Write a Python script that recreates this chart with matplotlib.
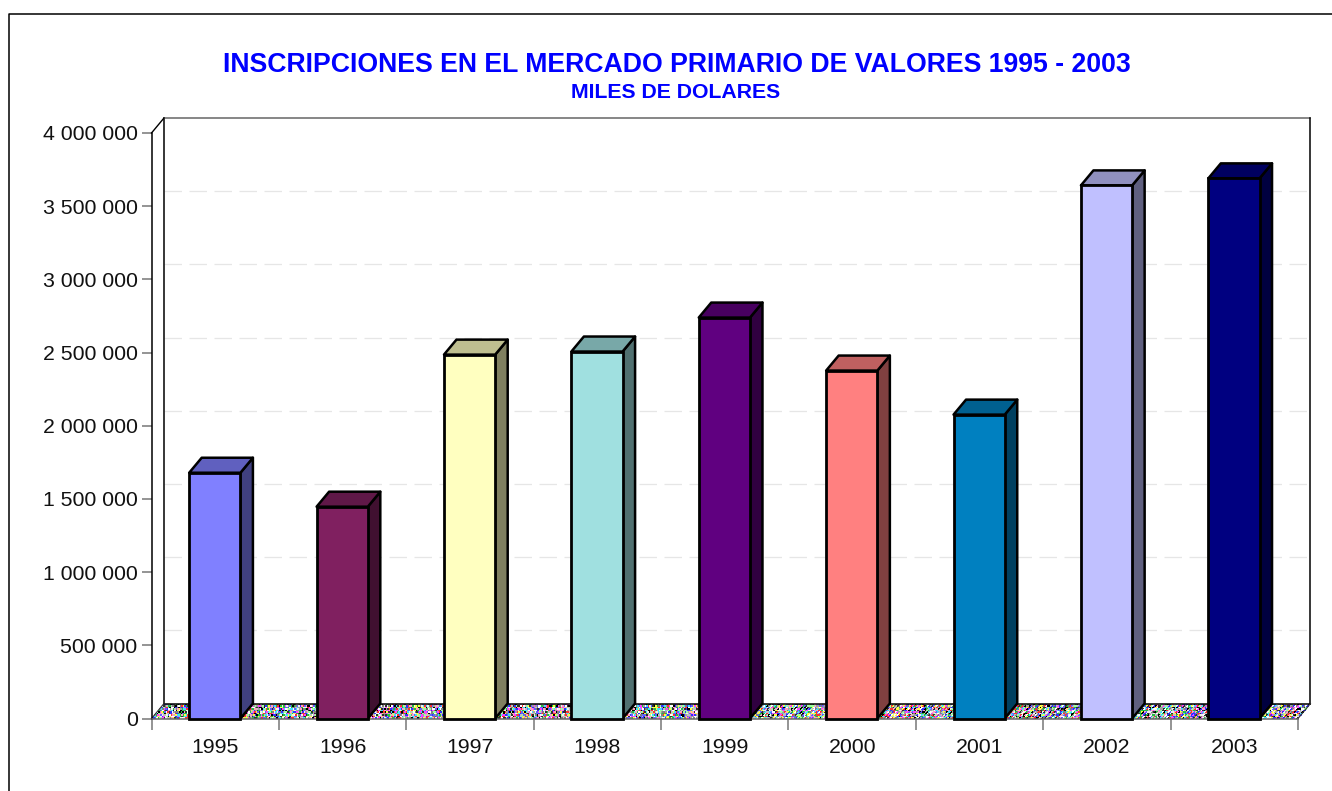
#!/usr/bin/env python3
import numpy as np
import matplotlib
matplotlib.use("Agg")
import matplotlib.pyplot as plt
from matplotlib.colors import ListedColormap
from matplotlib.patches import Polygon
from matplotlib.ticker import FuncFormatter

plt.rcParams["font.family"] = ["Liberation Sans", "DejaVu Sans"]

years = ["1995", "1996", "1997", "1998", "1999", "2000", "2001", "2002", "2003"]
values = [1679000, 1447000, 2486000, 2507000, 2739000, 2377000, 2076000, 3642000, 3690000]
front_colors = ["#8080FF", "#802060", "#FFFFC0", "#A0E0E0", "#600080",
                "#FF8080", "#0080C0", "#C0C0FF", "#000080"]
y_ticks = [0, 500000, 1000000, 1500000, 2000000, 2500000, 3000000, 3500000, 4000000]

W, H = 1332, 791
fig = plt.figure(figsize=(W / 100, H / 100), dpi=100)

# axes box is the front plane of the fake 3D chart
left, right, top, bottom = 151.5, 1298.0, 133.0, 718.5
ax = fig.add_axes([left / W, 1 - bottom / H, (right - left) / W, (bottom - top) / H])
ax.set_xlim(0, len(years))
ax.set_ylim(0, 4000000)
ax.patch.set_visible(False)

# depth offset of the 3D look, px converted to data units
dx = 12.5 * len(years) / (right - left)
dy = 15.0 * 4000000 / (bottom - top)


def shade(color, f):
    rgb = np.array(matplotlib.colors.to_rgb(color))
    return tuple(rgb * f)


n_years = len(years)

# back wall
ax.add_patch(Polygon([(dx, dy), (dx, 4000000 + dy), (n_years + dx, 4000000 + dy), (n_years + dx, dy)],
                     closed=True, fc="white", ec="none", clip_on=False, zorder=1))
for v in y_ticks[1:-1]:
    ax.plot([dx, n_years + dx], [v + dy, v + dy], color="#E6E6E6", lw=0.9,
            dashes=(14, 6), clip_on=False, zorder=1.5)
ax.plot([dx, dx], [dy, 4000000 + dy], color="black", lw=1.1, clip_on=False, zorder=2)
ax.plot([dx, n_years + dx], [4000000 + dy] * 2, color="#666666", lw=1.1, clip_on=False, zorder=2)
ax.plot([n_years + dx] * 2, [dy, 4000000 + dy], color="black", lw=1.1, clip_on=False, zorder=2)
ax.plot([0, dx], [4000000, 4000000 + dy], color="black", lw=1.0, clip_on=False, zorder=2)

# noisy floor texture, built from fixed integer patterns
palette = ListedColormap(["#FFFFFF", "#000000", "#FF40FF", "#40E0FF", "#FFFF40", "#3030FF",
                          "#FF3030", "#20C040", "#C0C0C0", "#F0F0F0", "#808080", "#6060FF",
                          "#A0A0A0", "#303030", "#FFA0C0", "#A0FFA0"])
nx, ny = 764, 10
ix, iy = np.meshgrid(np.arange(nx), np.arange(ny))
tex = (ix * 5 + iy * iy * 11 + (ix * ix) // 7 + ix * iy * 3 + (ix * ix * ix) // 41) % 16
u = np.linspace(0, n_years, nx + 1)
w = np.linspace(0, 1, ny + 1)
U, V = np.meshgrid(u, w)
ax.pcolormesh(U + V * dx, V * dy, tex, cmap=palette, shading="flat", clip_on=False, zorder=2.2,
              rasterized=True)
ax.plot([dx, n_years + dx], [dy, dy], color="black", lw=1.1, clip_on=False, zorder=2.4)
ax.plot([0, dx], [0, dy], color="#333333", lw=0.8, clip_on=False, zorder=2.4)
ax.plot([n_years, n_years + dx], [0, dy], color="#333333", lw=0.8, clip_on=False, zorder=2.4)

# bars
bar_w = 0.402
for i, (v, c) in enumerate(zip(values, front_colors)):
    x0 = i + 0.5 - 0.408 / 2
    x1 = x0 + bar_w
    z = 3 + i * 0.1
    ax.bar(x0, v, width=bar_w, align="edge", color=c, edgecolor="black", linewidth=2.0,
           clip_on=False, zorder=z + 0.02)
    ax.add_patch(Polygon([(x1, 0), (x1 + dx, dy), (x1 + dx, v + dy), (x1, v)], closed=True,
                         fc=shade(c, 0.5), ec="black", lw=1.8, joinstyle="round",
                         clip_on=False, zorder=z))
    ax.add_patch(Polygon([(x0, v), (x0 + dx, v + dy), (x1 + dx, v + dy), (x1, v)], closed=True,
                         fc=shade(c, 0.75), ec="black", lw=1.8, joinstyle="round",
                         clip_on=False, zorder=z))

# axes
for s in ["top", "right"]:
    ax.spines[s].set_visible(False)
ax.spines["left"].set_color("black")
ax.spines["left"].set_linewidth(1.1)
ax.spines["bottom"].set_color("#666666")
ax.spines["bottom"].set_linewidth(1.1)
ax.spines["bottom"].set_zorder(2.5)
ax.set_yticks(y_ticks)
ax.yaxis.set_major_formatter(FuncFormatter(lambda v, p: f"{int(v):,}".replace(",", " ")))
ax.set_xticks(range(n_years + 1))
ax.set_xticklabels([])
ax.set_xticks(np.arange(n_years) + 0.5, minor=True)
ax.set_xticklabels(years, minor=True)
ax.tick_params(axis="x", which="major", length=8, width=1.1, color="#777777")
ax.tick_params(axis="x", which="minor", length=0, pad=14, labelsize=15.3, labelcolor="#111111")
ax.tick_params(axis="y", length=7, width=1.1, color="#777777", pad=3, labelsize=15.3, labelcolor="#111111")

# titles
fig.text(676.5 / W, 1 - 64.5 / H, "INSCRIPCIONES EN EL MERCADO PRIMARIO DE VALORES 1995 - 2003",
         color="#0000FF", fontsize=19.2, fontweight="bold", ha="center", va="center")
fig.text(675.5 / W, 1 - 93 / H, "MILES DE DOLARES",
         color="#0000FF", fontsize=15.3, fontweight="bold", ha="center", va="center")

# outer frame, runs off the right and bottom of the picture
fig.add_artist(plt.Line2D([8.5 / W, 8.5 / W, 1], [0, 1 - 13.5 / H, 1 - 13.5 / H], color="black", lw=1.1))

fig.savefig("out.png", dpi=100)
